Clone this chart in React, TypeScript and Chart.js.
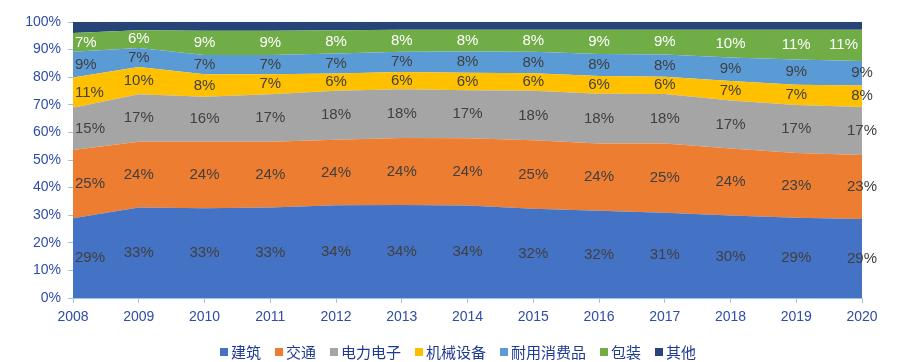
import React, { useEffect, useRef } from "react";
import { Chart, registerables } from "chart.js";

Chart.register(...registerables);

const years = ["2008", "2009", "2010", "2011", "2012", "2013", "2014", "2015", "2016", "2017", "2018", "2019", "2020"];
const seriesNames = ["建筑", "交通", "电力电子", "机械设备", "耐用消费品", "包装", "其他"];
const jianzhu = [28.9, 32.8, 32.5, 32.8, 33.6, 33.7, 33.5, 32.3, 31.6, 30.9, 29.9, 29.1, 28.6];
const jiaotong = [24.7, 23.8, 24.1, 23.8, 23.7, 24.3, 24.4, 24.9, 24.4, 25.1, 24.3, 23.4, 23.2];
const dianli = [15.3, 17.2, 16.3, 17.2, 17.8, 17.6, 17.4, 17.9, 18.0, 17.9, 17.4, 17.4, 17.4];
const jixie = [11.0, 9.9, 8.2, 7.3, 6.2, 6.3, 6.3, 6.3, 6.4, 6.3, 7.0, 7.4, 7.8];
const naiyong = [9.3, 6.9, 6.9, 6.9, 7.3, 7.3, 7.7, 7.8, 8.0, 8.0, 8.5, 9.1, 8.9];
const baozhuang = [6.8, 6.4, 8.8, 8.8, 8.4, 8.0, 7.9, 8.0, 8.8, 9.0, 10.1, 10.8, 11.3];
const qita = [4.0, 3.0, 3.2, 3.2, 3.0, 2.8, 2.8, 2.8, 2.8, 2.8, 2.8, 2.8, 2.8];
const colors = ["#4472C4", "#ED7D31", "#A5A5A5", "#FFC000", "#5B9BD5", "#70AD47", "#264478"];
const labelColors = ["#404040", "#404040", "#404040", "#404040", "#404040", "#FFFFFF", null];
const yTicks = [0, 10, 20, 30, 40, 50, 60, 70, 80, 90, 100];

const allSeries = [jianzhu, jiaotong, dianli, jixie, naiyong, baozhuang, qita];

const FONT = "'Liberation Sans', Arial, sans-serif";
const CJK = "'Noto Sans CJK SC', 'Liberation Sans', sans-serif";

const labelPlugin = {
  id: "bandLabels",
  afterDatasetsDraw(chart: any) {
    const ctx = chart.ctx;
    const area = chart.chartArea;
    ctx.save();
    ctx.font = `15px ${FONT}`;
    ctx.textBaseline = "middle";
    ctx.textAlign = "center";
    chart.data.datasets.forEach((ds: any, di: number) => {
      const col = labelColors[di];
      if (!col) return;
      const meta = chart.getDatasetMeta(di);
      const prev = di > 0 ? chart.getDatasetMeta(di - 1) : null;
      meta.data.forEach((pt: any, i: number) => {
        const top = pt.y;
        const bottom = prev ? prev.data[i].y : area.bottom;
        const text = Math.round(ds.data[i]) + "%";
        const w = ctx.measureText(text).width;
        let x = pt.x;
        if (x - w / 2 < area.left + 2) x = area.left + 2 + w / 2;
        if (col === "#FFFFFF" && x + w / 2 > area.right - 4) x = area.right - 4 - w / 2;
        ctx.fillStyle = col;
        ctx.fillText(text, x, (top + bottom) / 2);
      });
    });
    ctx.restore();
  },
};

const legendPlugin = {
  id: "customLegend",
  afterDraw(chart: any) {
    const ctx = chart.ctx;
    ctx.save();
    ctx.font = `15px ${CJK}`;
    ctx.textBaseline = "middle";
    const box = 8;
    const gap = 3;
    const itemGap = 14;
    const widths = seriesNames.map((n) => ctx.measureText(n).width);
    const total = widths.reduce((a, b) => a + b, 0) + seriesNames.length * (box + gap) + (seriesNames.length - 1) * itemGap;
    let x = 458 - total / 2;
    const y = 352;
    seriesNames.forEach((n, i) => {
      ctx.fillStyle = colors[i];
      ctx.fillRect(x, y - box / 2, box, box);
      x += box + gap;
      ctx.fillStyle = "#1F3A93";
      ctx.textAlign = "left";
      ctx.fillText(n, x, y);
      x += widths[i] + itemGap;
    });
    ctx.restore();
  },
};

export default function App() {
  const ref = useRef<HTMLCanvasElement>(null);
  useEffect(() => {
    if (!ref.current) return;
    const chart = new Chart(ref.current, {
      type: "line",
      data: {
        labels: years,
        datasets: allSeries.map((d, i) => ({
          label: seriesNames[i],
          data: d,
          backgroundColor: colors[i],
          borderColor: colors[i],
          borderWidth: 0,
          pointRadius: 0,
          fill: i === 0 ? "origin" : "-1",
          tension: 0,
        })),
      },
      options: {
        animation: false,
        responsive: true,
        maintainAspectRatio: false,
        layout: { padding: { left: 0, right: 48, top: 22, bottom: 24 } },
        plugins: {
          legend: { display: false },
          tooltip: { enabled: false },
        },
        scales: {
          x: {
            offset: false,
            grid: { display: true, drawOnChartArea: false, drawTicks: true, tickLength: 5, color: "#9DC3E6" },
            border: { color: "#9DC3E6", width: 1 },
            ticks: { color: "#2E4DA7", font: { family: FONT, size: 14 }, padding: 6, maxRotation: 0 },
            afterFit: (s: any) => { s.height = 40; },
          },
          y: {
            stacked: true,
            min: 0,
            max: 100,
            afterBuildTicks: (s: any) => { s.ticks = yTicks.map((v) => ({ value: v })); },
            grid: { display: true, drawOnChartArea: false, drawTicks: true, tickLength: 5, color: "#9DC3E6" },
            border: { color: "#9DC3E6", width: 1 },
            ticks: { color: "#2E4DA7", font: { family: FONT, size: 14 }, padding: 7, callback: (v: any) => v + "%" },
            afterFit: (s: any) => { s.width = 73; },
          },
        },
      },
      plugins: [labelPlugin, legendPlugin],
    });
    return () => chart.destroy();
  }, []);
  return (
    <div style={{ position: "absolute", left: 0, top: 0, width: 910, height: 362, background: "#fff" }}>
      <canvas ref={ref} />
    </div>
  );
}
